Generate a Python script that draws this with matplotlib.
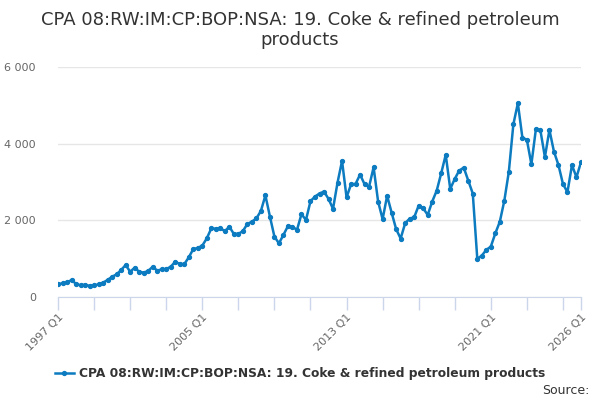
"""CPA 08 coke & refined petroleum imports, quarterly."""

import matplotlib.pyplot as plt
from matplotlib.lines import Line2D
from matplotlib.ticker import FuncFormatter, MultipleLocator

title = "CPA 08:RW:IM:CP:BOP:NSA: 19. Coke & refined petroleum\nproducts"
series_name = "CPA 08:RW:IM:CP:BOP:NSA: 19. Coke & refined petroleum products"

start_year = 1997
values = [
    340, 355, 380, 445, 340, 305, 320, 290,          # 1997-1998
    305, 330, 375, 445, 530, 590, 705, 835,          # 1999-2000
    660, 765, 660, 635, 680, 790, 690, 720,          # 2001-2002
    730, 790, 920, 860, 855, 1035, 1250, 1280,       # 2003-2004
    1340, 1530, 1790, 1780, 1800, 1715, 1835, 1645,  # 2005-2006
    1645, 1720, 1905, 1965, 2050, 2245, 2650, 2100,  # 2007-2008
    1575, 1400, 1620, 1850, 1835, 1750, 2160, 2010,  # 2009-2010
    2500, 2620, 2700, 2750, 2560, 2300, 2985, 3550,  # 2011-2012
    2600, 2940, 2950, 3195, 2940, 2880, 3385, 2490,  # 2013-2014
    2030, 2640, 2200, 1770, 1525, 1925, 2045, 2080,  # 2015-2016
    2385, 2315, 2140, 2490, 2775, 3230, 3710, 2820,  # 2017-2018
    3080, 3300, 3375, 3035, 2700, 995, 1080, 1230,   # 2019-2020
    1315, 1660, 1965, 2515, 3270, 4505, 5055, 4160,  # 2021-2022
    4100, 3465, 4380, 4345, 3650, 4360, 3795, 3445,  # 2023-2024
    2950, 2735, 3440, 3125, 3515,                    # 2025-2026 Q1
]
label_years = [1997, 2005, 2013, 2021, 2026]

blue = "#0c7bc0"
grid_grey = "#e6e6e6"
axis_blue = "#ccd6eb"
text_grey = "#666666"

fig = plt.figure(figsize=(6, 4), dpi=100)
ax = fig.add_axes([0.0967, 0.2575, 0.8716, 0.575])

x = list(range(len(values)))
ax.plot(x, values, color=blue, linewidth=1.8, marker="o", markersize=2.8, zorder=3)

ax.set_xlim(0, len(values) - 1)
ax.set_ylim(0, 6000)

ax.yaxis.set_major_locator(MultipleLocator(2000))
ax.yaxis.set_major_formatter(
    FuncFormatter(lambda v, _: f"{int(v):,}".replace(",", " "))
)
ax.grid(axis="y", color=grid_grey, linewidth=1)
ax.set_axisbelow(True)
ax.tick_params(axis="y", length=0, labelsize=8, labelcolor=text_grey, pad=16)

major = [(y - start_year) * 4 for y in label_years]
ax.set_xticks(major)
ax.set_xticklabels([f"{y} Q1" for y in label_years])
ax.set_xticks(range(0, len(values), 8), minor=True)
ax.tick_params(axis="x", which="both", length=9, color=axis_blue, width=1)
ax.tick_params(axis="x", which="major", labelsize=8, labelcolor=text_grey, pad=2)
for lbl in ax.get_xticklabels():
    lbl.set_rotation(45)
    lbl.set_ha("right")
    lbl.set_rotation_mode("anchor")

for side in ["top", "right", "left"]:
    ax.spines[side].set_visible(False)
ax.spines["bottom"].set_color(axis_blue)

fig.text(0.5, 0.925, title, ha="center", va="center", fontsize=13,
         color="#333333", linespacing=1.15)

handle = Line2D([], [], color=blue, linewidth=1.8, marker="o", markersize=2.8)
fig.legend([handle], [series_name], loc="center", bbox_to_anchor=(0.5, 0.066),
           frameon=False, handlelength=1.6, handletextpad=0.4,
           prop={"size": 8.8, "weight": "bold"}, labelcolor="#333333")

fig.text(0.982, 0.025, "Source:", ha="right", va="center", fontsize=9,
         color="#333333")

fig.savefig("out.png", dpi=100)
